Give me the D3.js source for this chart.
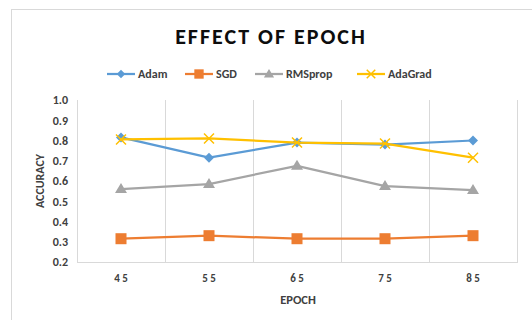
<!DOCTYPE html>
<html><head><meta charset="utf-8">
<script src="https://cdn.jsdelivr.net/npm/d3@7"></script>
<style>body{margin:0;background:#fff}svg{display:block}text{font-family:Calibri,"Liberation Sans","DejaVu Sans",sans-serif}</style>
</head><body><svg id="c" width="532" height="320"></svg>
<script>
const categories = ["4 5", "5 5", "6 5", "7 5", "8 5"];
const seriesNames = ["Adam", "SGD", "RMSprop", "AdaGrad"];
const adam = [0.815, 0.715, 0.79, 0.78, 0.80];
const sgd = [0.315, 0.33, 0.315, 0.315, 0.33];
const rmsprop = [0.56, 0.585, 0.675, 0.575, 0.555];
const adagrad = [0.805, 0.81, 0.79, 0.785, 0.715];
const yTicks = [0.2, 0.3, 0.4, 0.5, 0.6, 0.7, 0.8, 0.9, 1.0];
const colors = ["#5B9BD5", "#ED7D31", "#A5A5A5", "#FFC000"];
const markers = ["diamond", "square", "triangle", "x"];
const allSeries = [adam, sgd, rmsprop, adagrad];

const svg = d3.select("#c");
// outer frame
svg.append("rect").attr("x", 11.5).attr("y", 9.5).attr("width", 530).attr("height", 330)
  .attr("fill", "#fff").attr("stroke", "#d9d9d9").attr("stroke-width", 1);

const L = 77, R = 517, T = 100, B = 262;
const x = d3.scaleBand().domain(categories).range([L, R]);
const y = d3.scaleLinear().domain([0.2, 1.0]).range([B, T]);

// vertical gridlines at band boundaries
const bounds = categories.map(c => x(c)).concat([R]);
svg.append("g").selectAll("line").data(bounds).join("line")
  .attr("x1", d => d + 0.5).attr("x2", d => d + 0.5).attr("y1", T).attr("y2", B)
  .attr("stroke", "#d9d9d9").attr("stroke-width", 1);
svg.append("line").attr("x1", L).attr("x2", R + 1).attr("y1", B + 0.5).attr("y2", B + 0.5)
  .attr("stroke", "#d9d9d9");

// y axis labels
const yAxis = d3.axisLeft(y).tickValues(yTicks).tickFormat(d3.format(".1f")).tickSize(0).tickPadding(9);
const ga = svg.append("g").attr("transform", `translate(${L},0)`).call(yAxis);
ga.select(".domain").remove();
ga.selectAll("text").attr("font-size", 12).attr("font-weight", "bold").attr("fill", "#404040")
  .style("font-family", "Calibri,'Liberation Sans',sans-serif");

// x axis labels
const xAxis = d3.axisBottom(x).tickSize(0).tickPadding(12);
const gx = svg.append("g").attr("transform", `translate(0,${B})`).call(xAxis);
gx.select(".domain").remove();
gx.selectAll("text").attr("font-size", 11).attr("font-weight", "bold").attr("fill", "#404040")
  .style("font-family", "Calibri,'Liberation Sans',sans-serif");

// titles
svg.append("text").attr("x", 271).attr("y", 44).attr("text-anchor", "middle")
  .attr("font-size", 22).attr("font-weight", "bold").attr("letter-spacing", 2).attr("fill", "#0d0d0d")
  .text("EFFECT OF EPOCH");
svg.append("text").attr("x", 298).attr("y", 304).attr("text-anchor", "middle")
  .attr("font-size", 12.5).attr("font-weight", "bold").attr("fill", "#404040").text("EPOCH");
svg.append("text").attr("transform", "translate(44,181) rotate(-90)").attr("text-anchor", "middle")
  .attr("font-size", 12).attr("font-weight", "bold").attr("fill", "#404040").text("ACCURACY");

function drawMarker(g, type, cx, cy, color, s) {
  s = s || 1;
  if (type === "diamond") {
    g.append("path").attr("d", `M${cx},${cy-5*s}L${cx+5*s},${cy}L${cx},${cy+5*s}L${cx-5*s},${cy}Z`).attr("fill", color);
  } else if (type === "square") {
    g.append("rect").attr("x", cx-5.5*s).attr("y", cy-5.5*s).attr("width", 11*s).attr("height", 11*s).attr("fill", color);
  } else if (type === "triangle") {
    g.append("path").attr("d", `M${cx},${cy-6*s}L${cx+6*s},${cy+4*s}L${cx-6*s},${cy+4*s}Z`).attr("fill", color);
  } else {
    g.append("path").attr("d", `M${cx-5*s},${cy-5*s}L${cx+5*s},${cy+5*s}M${cx-5*s},${cy+5*s}L${cx+5*s},${cy-5*s}`)
      .attr("stroke", color).attr("stroke-width", 1.5).attr("fill", "none");
  }
}

const line = d3.line().x((d, i) => x(categories[i]) + x.bandwidth() / 2).y(d => y(d));
allSeries.forEach((s, k) => {
  const g = svg.append("g");
  g.append("path").attr("d", line(s)).attr("fill", "none").attr("stroke", colors[k]).attr("stroke-width", 2.25)
    .attr("stroke-linejoin", "round").attr("stroke-linecap", "round");
  s.forEach((v, i) => drawMarker(g, markers[k], x(categories[i]) + x.bandwidth() / 2, y(v), colors[k]));
});

// legend
const legendX = [107, 185, 255, 357];
seriesNames.forEach((n, k) => {
  const g = svg.append("g");
  const lx = legendX[k], ly = 74;
  g.append("line").attr("x1", lx).attr("x2", lx + 28).attr("y1", ly).attr("y2", ly)
    .attr("stroke", colors[k]).attr("stroke-width", 2.25);
  drawMarker(g, markers[k], lx + 14, ly, colors[k], 0.85);
  g.append("text").attr("x", lx + 31).attr("y", ly + 4).attr("font-size", 12).attr("font-weight", "bold")
    .attr("fill", "#404040").text(n);
});
</script></body></html>
